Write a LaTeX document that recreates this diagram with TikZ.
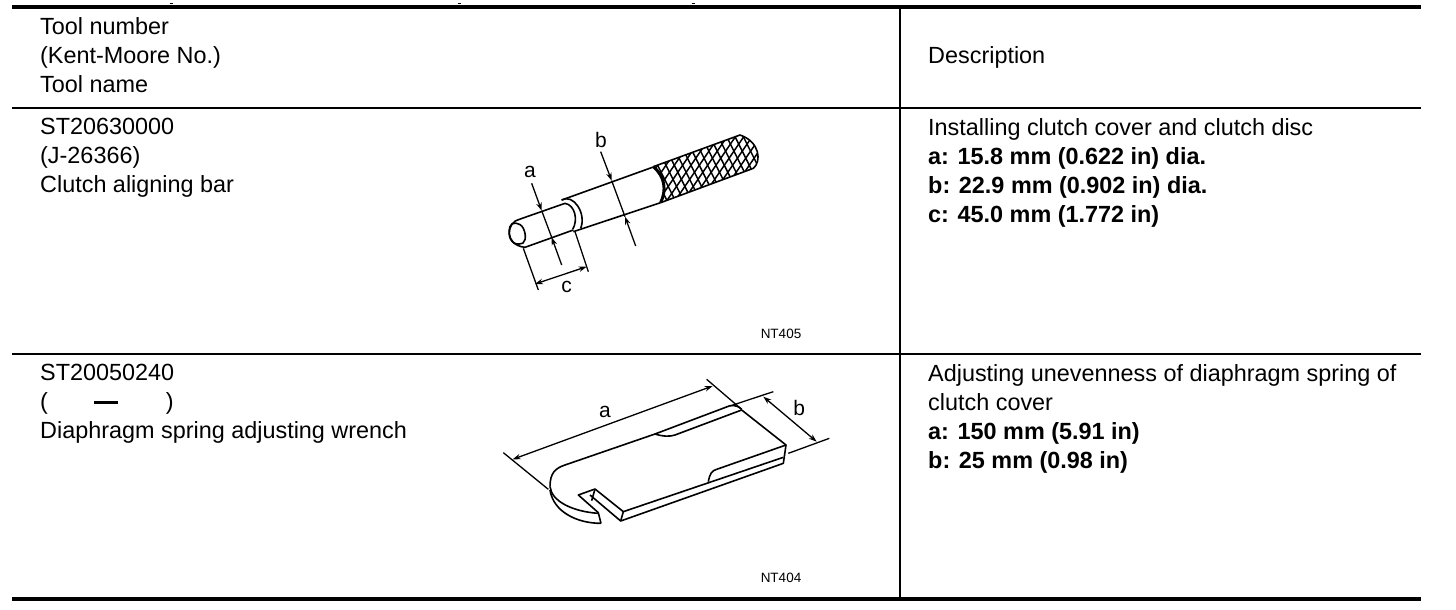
\documentclass[tikz,border=0pt]{standalone}
\usepackage{fontspec}
\setmainfont{Liberation Sans}
\usetikzlibrary{arrows.meta}
\tikzset{
  celltext/.style={anchor=north west, inner sep=0pt, align=left, font=\fontsize{23.4}{29}\selectfont},
  partlabel/.style={inner sep=0pt, font=\fontsize{21}{24}\selectfont},
  figcode/.style={inner sep=0pt, font=\fontsize{13.5}{16}\selectfont},
  partline/.style={line width=1.6pt, line join=round},
  dimline/.style={line width=1.3pt},
  dimtip/.style={line width=1.3pt, -{Stealth[length=8pt,width=5.5pt]}},
  dimboth/.style={line width=1.3pt, {Stealth[length=8pt,width=5.5pt]}-{Stealth[length=8pt,width=5.5pt]}},
}
\begin{document}
\begin{tikzpicture}[x=1pt, y=-1pt]
\useasboundingbox (0,0) rectangle (1456,610);
\fill[white] (0,0) rectangle (1456,610);

%rules
	\draw[line width=4pt] (12,7) -- (1421,7);
	\draw[line width=2pt] (12,108) -- (1421,108);
	\draw[line width=2pt] (12,354) -- (1421,354);
	\draw[line width=4pt] (12,599) -- (1421,599);
	\draw[line width=1.2pt] (900,7) -- (900,599);
	\foreach \x in {171, 459, 693}{
		\draw[line width=0.8pt] (\x-1.5,3.5) -- (\x+1.5,3.5);
	}

%table text
	\node[celltext] (headname) at (40,17) {Tool number\\(Kent-Moore No.)\\Tool name};
	\node[celltext] (headdesc) at (928,46) {Description};
	\node[celltext] (barname) at (40,118) {ST20630000\\(J-26366)\\Clutch aligning bar};
	\node[celltext] (bardesc) at (928,118) {Installing clutch cover and clutch disc\\
		\textbf{a: 15.8 mm (0.622 in) dia.}\\\textbf{b: 22.9 mm (0.902 in) dia.}\\\textbf{c: 45.0 mm (1.772 in)}};
	\node[celltext] (wrenchname) at (40,364) {ST20050240\\(\hspace{46pt}\rule[6pt]{24pt}{2.4pt}\hspace{48pt})\\Diaphragm spring adjusting wrench};
	\node[celltext] (wrenchdesc) at (928,364) {Adjusting unevenness of diaphragm spring of\\clutch cover\\
		\textbf{a: 150 mm (5.91 in)}\\\textbf{b: 25 mm (0.98 in)}};
	\node[figcode] (barcode) at (781,334) {NT405};
	\node[figcode] (wrenchcode) at (781,578) {NT404};

%aligning bar
\begin{scope}[shift={(490,120)}, scale=1/3]
	\begin{scope}
		\clip (490,140) .. controls (525,170) and (530,210) .. (512,248) -- (790,145)
			.. controls (815,125) and (810,65) .. (750,45) -- cycle;
		\foreach \i in {300,325,...,900}{
			\draw[line width=1.5pt] (\i,250) -- (\i+150,30);
			\draw[line width=1.5pt] (\i,30) -- (\i+110,250);
		}
	\end{scope}
	\draw[partline, line width=3pt] (490,140) .. controls (525,170) and (530,210) .. (512,248);
	\draw[partline] (512,248) -- (790,145) .. controls (815,125) and (810,65) .. (750,45) -- (490,140);

	\draw[partline] (490,141) -- (215,240);
	\draw[partline] (512,248) -- (250,335);
	\draw[partline] (225,250) -- (88,298) .. controls (50,305) and (40,375) .. (105,382) -- (250,330);
	\draw[partline] (60,320) .. controls (62,305) and (90,305) .. (100,325) .. controls (112,350) and (105,375) .. (88,372)
		.. controls (62,375) and (52,345) .. (60,320);
	\draw[partline] (215,240) .. controls (250,220) and (290,280) .. (272,325);
	\draw[partline] (225,250) .. controls (255,255) and (265,300) .. (248,328);

	\draw[dimline] (155,272) -- (185,352);
	\draw[dimtip] (125,190) -- (155,272);
	\draw[dimtip] (215,435) -- (185,352);
	\draw[dimline] (365,182) -- (405,290);
	\draw[dimtip] (332,95) -- (365,182);
	\draw[dimtip] (437,378) -- (405,290);
	\draw[dimline] (100,385) -- (145,510);
	\draw[dimline] (255,335) -- (295,455);
	\draw[dimboth] (135,492) -- (290,440);

	\node[partlabel] (bara) at (120,155) {a};
	\node[partlabel] (barb) at (333,60) {b};
	\node[partlabel] (barc) at (230,500) {c};
\end{scope}

%wrench
\begin{scope}[shift={(490,370)}, scale=1/3]
	\draw[partline] (180,350) .. controls (180,310) and (195,295) .. (225,285) -- (495,192)
		.. controls (520,200) and (540,200) .. (555,195) -- (755,120) -- (888,225)
		-- (880,280) -- (392,453) -- (300,375);
	\draw[partline] (495,192) -- (720,107) .. controls (735,105) and (748,110) .. (755,118);
	\draw[partline] (880,262) -- (400,425) -- (392,453);
	\draw[partline] (400,425) -- (315,357) -- (265,375) -- (325,428) -- (333,460);
	\draw[partline] (315,357) -- (305,392);
	\draw[partline] (680,298) -- (888,225);
	\draw[partline] (655,335) .. controls (660,310) and (665,302) .. (680,298);
	\draw[partline] (180,350) .. controls (185,395) and (250,425) .. (325,430);
	\draw[partline] (180,360) .. controls (190,425) and (260,460) .. (333,460);

	\draw[dimline] (40,248) -- (175,358);
	\draw[dimline] (650,28) -- (755,118);
	\draw[dimboth] (68,268) -- (668,48);
	\draw[dimline] (720,108) -- (850,65);
	\draw[dimline] (895,250) -- (1018,205);
	\draw[dimboth] (820,80) -- (980,215);

	\node[partlabel] (wrencha) at (345,125) {a};
	\node[partlabel] (wrenchb) at (928,115) {b};
\end{scope}
\end{tikzpicture}
\end{document}
